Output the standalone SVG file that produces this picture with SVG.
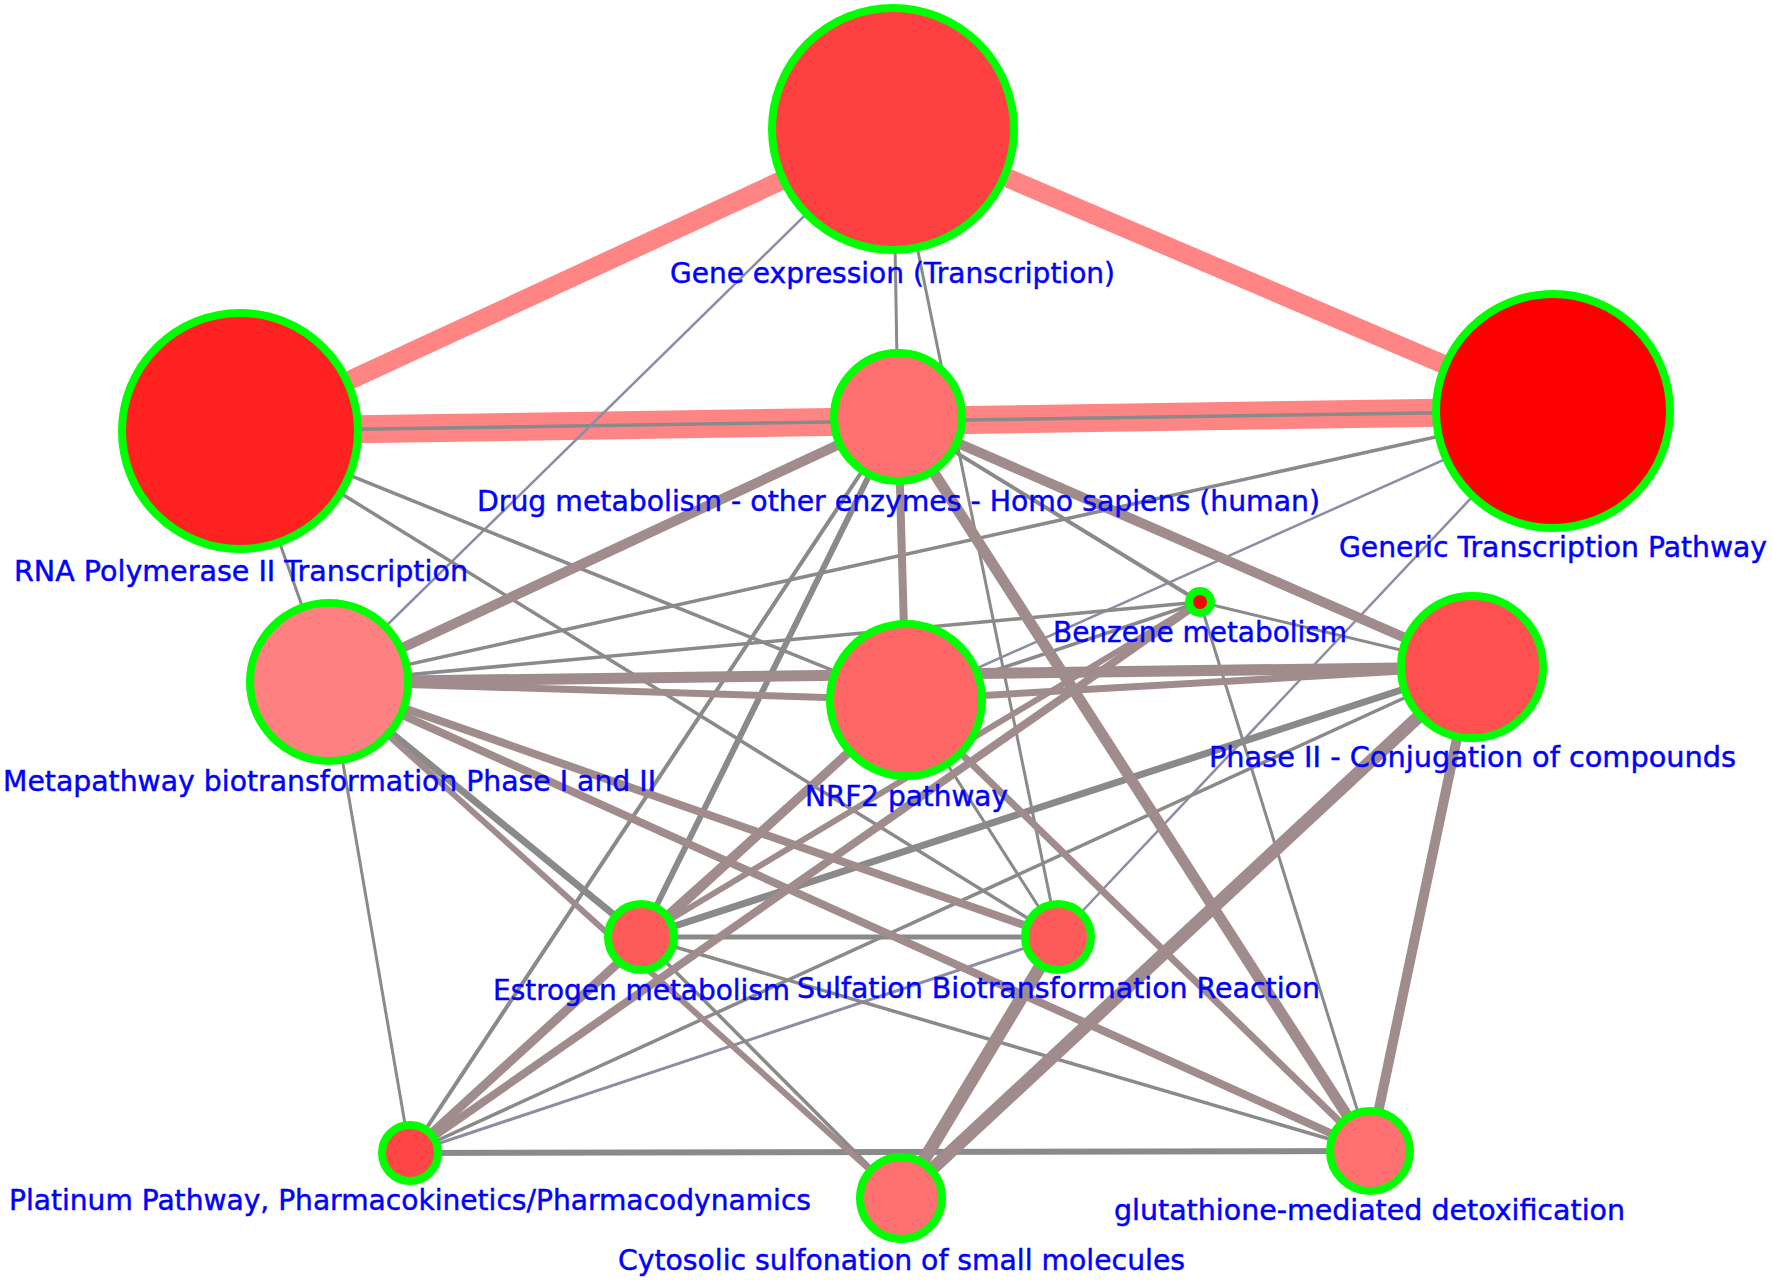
<svg xmlns="http://www.w3.org/2000/svg" width="1772" height="1281" viewBox="0 0 1772 1281">
<style>
.e{fill:none;stroke-linecap:butt}
.pk{stroke:#ff8585}
.br{stroke:#a08c8c}
.gr{stroke:#8a8a8a}
.bl{stroke:#8c8ca4}
.n{stroke:#00ff00;stroke-width:8}
.t{font-family:"DejaVu Sans","Liberation Sans",sans-serif;font-size:28px;fill:#0000ff;stroke:#0000ff;stroke-width:0.45}
</style>
<rect width="1772" height="1281" fill="#ffffff"/>
<g id="connectors">
<line class="e pk" x1="893" y1="129" x2="240" y2="431" stroke-width="19"/>
<line class="e pk" x1="893" y1="129" x2="1553" y2="411" stroke-width="19"/>
<line class="e pk" x1="240" y1="431" x2="1553" y2="411" stroke-width="28"/>
<line class="e gr" x1="240" y1="431" x2="1553" y2="411" stroke-width="3.5"/>
<line class="e gr" x1="893" y1="129" x2="898" y2="417" stroke-width="3"/>
<line class="e gr" x1="893" y1="129" x2="1058" y2="937" stroke-width="3"/>
<line class="e bl" x1="893" y1="129" x2="329" y2="682" stroke-width="2.5"/>
<line class="e gr" x1="240" y1="431" x2="329" y2="682" stroke-width="3"/>
<line class="e gr" x1="240" y1="431" x2="906" y2="700" stroke-width="3.5"/>
<line class="e gr" x1="240" y1="431" x2="1058" y2="937" stroke-width="3.5"/>
<line class="e gr" x1="1553" y1="411" x2="329" y2="682" stroke-width="3.5"/>
<line class="e bl" x1="1553" y1="411" x2="906" y2="700" stroke-width="2.5"/>
<line class="e bl" x1="1553" y1="411" x2="1058" y2="937" stroke-width="2.5"/>
<line class="e gr" x1="1200" y1="602" x2="1472" y2="667" stroke-width="3"/>
<line class="e gr" x1="1200" y1="602" x2="1370" y2="1151" stroke-width="3"/>
<line class="e gr" x1="906" y1="700" x2="1200" y2="602" stroke-width="3.5"/>
<line class="e gr" x1="329" y1="682" x2="1200" y2="602" stroke-width="3.5"/>
<line class="e gr" x1="329" y1="682" x2="410" y2="1153" stroke-width="3"/>
<line class="e bl" x1="410" y1="1153" x2="1058" y2="937" stroke-width="3"/>
<line class="e gr" x1="641" y1="937" x2="1370" y2="1151" stroke-width="3.5"/>
<line class="e gr" x1="641" y1="937" x2="901" y2="1198" stroke-width="3.5"/>
<line class="e gr" x1="906" y1="700" x2="1058" y2="937" stroke-width="3"/>
<line class="e gr" x1="410" y1="1153" x2="1472" y2="667" stroke-width="3.5"/>
<line class="e gr" x1="898" y1="417" x2="410" y2="1153" stroke-width="4"/>
<line class="e gr" x1="898" y1="417" x2="1200" y2="602" stroke-width="4"/>
<line class="e gr" x1="898" y1="417" x2="641" y2="937" stroke-width="6"/>
<line class="e gr" x1="329" y1="682" x2="641" y2="937" stroke-width="7"/>
<line class="e gr" x1="641" y1="937" x2="1472" y2="667" stroke-width="7"/>
<line class="e gr" x1="641" y1="937" x2="1058" y2="937" stroke-width="5"/>
<line class="e gr" x1="410" y1="1153" x2="1370" y2="1151" stroke-width="6"/>
<line class="e br" x1="898" y1="417" x2="329" y2="682" stroke-width="10"/>
<line class="e br" x1="898" y1="417" x2="906" y2="700" stroke-width="8"/>
<line class="e br" x1="898" y1="417" x2="1472" y2="667" stroke-width="10"/>
<line class="e br" x1="898" y1="417" x2="1370" y2="1151" stroke-width="11"/>
<line class="e br" x1="329" y1="682" x2="906" y2="700" stroke-width="7"/>
<line class="e br" x1="329" y1="682" x2="1472" y2="667" stroke-width="11"/>
<line class="e br" x1="329" y1="682" x2="1058" y2="937" stroke-width="8"/>
<line class="e br" x1="329" y1="682" x2="1370" y2="1151" stroke-width="8"/>
<line class="e br" x1="329" y1="682" x2="901" y2="1198" stroke-width="6"/>
<line class="e br" x1="906" y1="700" x2="1472" y2="667" stroke-width="7"/>
<line class="e br" x1="906" y1="700" x2="1370" y2="1151" stroke-width="7"/>
<line class="e br" x1="906" y1="700" x2="641" y2="937" stroke-width="6"/>
<line class="e br" x1="410" y1="1153" x2="906" y2="700" stroke-width="9"/>
<line class="e br" x1="410" y1="1153" x2="1200" y2="602" stroke-width="8"/>
<line class="e br" x1="641" y1="937" x2="1200" y2="602" stroke-width="6"/>
<line class="e br" x1="901" y1="1198" x2="1058" y2="937" stroke-width="13"/>
<line class="e br" x1="901" y1="1198" x2="1472" y2="667" stroke-width="13"/>
<line class="e br" x1="1472" y1="667" x2="1370" y2="1151" stroke-width="10"/>
</g>
<g id="node-gene-expression"><circle class="n" cx="893" cy="129" r="121" fill="#ff4040"/></g>
<g id="node-rna-polymerase"><circle class="n" cx="240" cy="431" r="118" fill="#ff2020"/></g>
<g id="node-generic-transcription"><circle class="n" cx="1553" cy="411" r="117" fill="#ff0000"/></g>
<g id="node-drug-metabolism"><circle class="n" cx="898" cy="417" r="64" fill="#ff7070"/></g>
<g id="node-benzene"><circle class="n" cx="1200" cy="602" r="11" fill="#ff0000"/></g>
<g id="node-metapathway"><circle class="n" cx="329" cy="682" r="79" fill="#ff8080"/></g>
<g id="node-nrf2"><circle class="n" cx="906" cy="700" r="76" fill="#ff6666"/></g>
<g id="node-phase2"><circle class="n" cx="1472" cy="667" r="71" fill="#ff5050"/></g>
<g id="node-estrogen"><circle class="n" cx="641" cy="937" r="33" fill="#ff5a5a"/></g>
<g id="node-sulfation"><circle class="n" cx="1058" cy="937" r="33" fill="#ff5a5a"/></g>
<g id="node-platinum"><circle class="n" cx="410" cy="1153" r="28" fill="#ff4545"/></g>
<g id="node-cytosolic"><circle class="n" cx="901" cy="1198" r="41" fill="#ff7070"/></g>
<g id="node-glutathione"><circle class="n" cx="1370" cy="1151" r="40" fill="#ff7070"/></g>
<g id="labels">
<text class="t" x="670" y="283" textLength="445" lengthAdjust="spacingAndGlyphs">Gene expression (Transcription)</text>
<text class="t" x="14" y="581" textLength="454" lengthAdjust="spacingAndGlyphs">RNA Polymerase II Transcription</text>
<text class="t" x="477" y="511" textLength="843" lengthAdjust="spacingAndGlyphs">Drug metabolism - other enzymes - Homo sapiens (human)</text>
<text class="t" x="1339" y="557" textLength="428" lengthAdjust="spacingAndGlyphs">Generic Transcription Pathway</text>
<text class="t" x="1053" y="642" textLength="294" lengthAdjust="spacingAndGlyphs">Benzene metabolism</text>
<text class="t" x="3" y="791" textLength="653" lengthAdjust="spacingAndGlyphs">Metapathway biotransformation Phase I and II</text>
<text class="t" x="805" y="806" textLength="203" lengthAdjust="spacingAndGlyphs">NRF2 pathway</text>
<text class="t" x="1209" y="767" textLength="527" lengthAdjust="spacingAndGlyphs">Phase II - Conjugation of compounds</text>
<text class="t" x="493" y="1000" textLength="297" lengthAdjust="spacingAndGlyphs">Estrogen metabolism</text>
<text class="t" x="797" y="998" textLength="523" lengthAdjust="spacingAndGlyphs">Sulfation Biotransformation Reaction</text>
<text class="t" x="9" y="1210" textLength="802" lengthAdjust="spacingAndGlyphs">Platinum Pathway, Pharmacokinetics/Pharmacodynamics</text>
<text class="t" x="618" y="1270" textLength="567" lengthAdjust="spacingAndGlyphs">Cytosolic sulfonation of small molecules</text>
<text class="t" x="1114" y="1220" textLength="511" lengthAdjust="spacingAndGlyphs">glutathione-mediated detoxification</text>
</g>
</svg>
